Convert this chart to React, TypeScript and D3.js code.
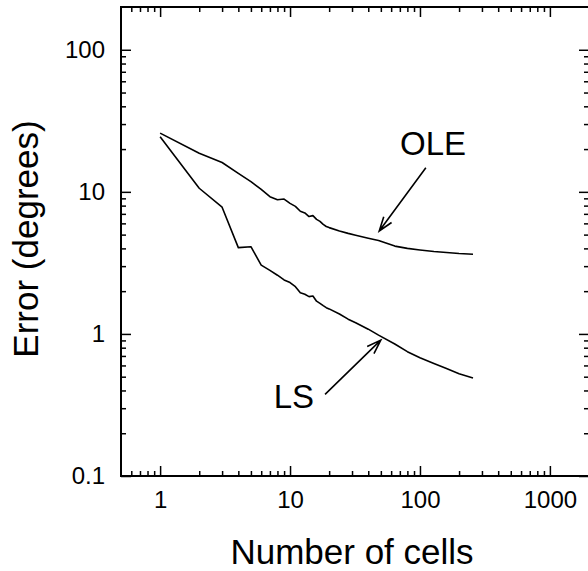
import React, { useEffect, useRef } from 'react';
import * as d3 from 'd3';

// number of cells used for each estimate
const cells = [1, 2, 3, 4, 5, 6, 7, 8, 9, 10, 11, 12, 13, 14, 15, 16, 17, 18, 19, 20, 24, 28, 32, 40, 48, 64, 80, 100, 128, 160, 200, 256];
const oleError = [25.9, 18.7, 16.1, 13.5, 11.8, 10.4, 9.25, 8.8, 8.9, 8.3, 7.9, 7.3, 7.1, 6.7, 6.8, 6.4, 6.2, 5.9, 5.7, 5.6, 5.3, 5.1, 4.95, 4.72, 4.55, 4.15, 4.0, 3.9, 3.8, 3.74, 3.68, 3.64];
const lsError = [24.4, 10.6, 7.8, 4.05, 4.11, 3.05, 2.8, 2.59, 2.4, 2.3, 2.15, 1.95, 1.9, 1.83, 1.85, 1.7, 1.64, 1.58, 1.53, 1.5, 1.38, 1.27, 1.2, 1.08, 0.98, 0.85, 0.75, 0.68, 0.62, 0.57, 0.525, 0.49];

const xTicks = [1, 10, 100, 1000];
const yTicks = [0.1, 1, 10, 100];

// annotations: label position and arrow (tail -> tip), in data units
const labels = ['OLE', 'LS'];
const labelAt = [[126, 18.2], [10.7, 0.3]];
const arrowFrom = [[111, 14.8], [18.6, 0.375]];
const arrowTo = [[48.6, 5.3], [49.9, 0.904]];

export default function App() {
  const svgRef = useRef<SVGSVGElement>(null);

  useEffect(() => {
    if (!svgRef.current) return;

    const width = 588;
    const height = 571;
    const left = 121, right = 589, top = 7, bottom = 476;
    const font = '"Liberation Sans", Arial, Helvetica, sans-serif';

    const svg = d3.select(svgRef.current);
    svg.selectAll('*').remove();
    svg.attr('width', width).attr('height', height);

    const x = d3.scaleLog().domain([0.5, 2000]).range([left, right]);
    const y = d3.scaleLog().domain([0.1, 200]).range([bottom, top]);

    const minorX: number[] = [];
    for (let e = -1; e <= 3; e++) for (let k = 2; k <= 9; k++) {
      const v = k * Math.pow(10, e);
      if (v > 0.5 && v < 2000) minorX.push(v);
    }
    const minorY: number[] = [];
    for (let e = -1; e <= 2; e++) for (let k = 2; k <= 9; k++) {
      const v = k * Math.pow(10, e);
      if (v > 0.1 && v < 200) minorY.push(v);
    }

    const styleAxis = (g: any) => {
      g.select('.domain').remove();
      g.selectAll('line').attr('stroke', '#000').attr('stroke-width', 1.5);
      g.selectAll('text').attr('fill', '#000').style('font-family', font).style('font-size', '24px');
    };

    // major ticks + labels
    svg.append('g').attr('transform', `translate(0,${bottom})`)
      .call(d3.axisBottom(x).tickValues(xTicks).tickSize(-10).tickPadding(15).tickFormat(d3.format('~g')))
      .call(styleAxis);
    svg.append('g').attr('transform', `translate(${left},0)`)
      .call(d3.axisLeft(y).tickValues(yTicks).tickSize(-10).tickPadding(16).tickFormat(d3.format('~g')))
      .call(styleAxis);
    svg.append('g').attr('transform', `translate(0,${top})`)
      .call(d3.axisTop(x).tickValues(xTicks).tickSize(-10).tickFormat(() => ''))
      .call(styleAxis);
    svg.append('g').attr('transform', `translate(${right},0)`)
      .call(d3.axisRight(y).tickValues(yTicks).tickSize(-10).tickFormat(() => ''))
      .call(styleAxis);

    // minor ticks
    svg.append('g').attr('transform', `translate(0,${bottom})`)
      .call(d3.axisBottom(x).tickValues(minorX).tickSize(-5).tickFormat(() => ''))
      .call(styleAxis);
    svg.append('g').attr('transform', `translate(0,${top})`)
      .call(d3.axisTop(x).tickValues(minorX).tickSize(-5).tickFormat(() => ''))
      .call(styleAxis);
    svg.append('g').attr('transform', `translate(${left},0)`)
      .call(d3.axisLeft(y).tickValues(minorY).tickSize(-5).tickFormat(() => ''))
      .call(styleAxis);
    svg.append('g').attr('transform', `translate(${right},0)`)
      .call(d3.axisRight(y).tickValues(minorY).tickSize(-5).tickFormat(() => ''))
      .call(styleAxis);

    // frame
    svg.append('rect')
      .attr('x', left).attr('y', top)
      .attr('width', right - left).attr('height', bottom - top)
      .attr('fill', 'none').attr('stroke', '#000').attr('stroke-width', 2);

    // curves
    const line = d3.line<number>()
      .x((_, i) => x(cells[i]))
      .y(d => y(d));

    [oleError, lsError].forEach(series => {
      svg.append('path')
        .datum(series)
        .attr('d', line)
        .attr('fill', 'none')
        .attr('stroke', '#000')
        .attr('stroke-width', 1.6)
        .attr('stroke-linejoin', 'round');
    });

    // annotations
    labels.forEach((lab, i) => {
      svg.append('text')
        .attr('x', x(labelAt[i][0]))
        .attr('y', y(labelAt[i][1]))
        .attr('text-anchor', 'middle')
        .style('font-family', font)
        .style('font-size', '33px')
        .text(lab);

      const x0 = x(arrowFrom[i][0]), y0 = y(arrowFrom[i][1]);
      const x1 = x(arrowTo[i][0]), y1 = y(arrowTo[i][1]);
      const ang = Math.atan2(y1 - y0, x1 - x0);
      const len = 15, spread = 0.33;
      const path = d3.path();
      path.moveTo(x0, y0);
      path.lineTo(x1, y1);
      path.moveTo(x1 - len * Math.cos(ang - spread), y1 - len * Math.sin(ang - spread));
      path.lineTo(x1, y1);
      path.lineTo(x1 - len * Math.cos(ang + spread), y1 - len * Math.sin(ang + spread));
      svg.append('path')
        .attr('d', path.toString())
        .attr('fill', 'none')
        .attr('stroke', '#000')
        .attr('stroke-width', 1.6);
    });

    // axis titles
    svg.append('text')
      .attr('x', 352)
      .attr('y', 564)
      .attr('text-anchor', 'middle')
      .style('font-family', font)
      .style('font-size', '35px')
      .text('Number of cells');

    svg.append('text')
      .attr('transform', `translate(38,239) rotate(-90)`)
      .attr('text-anchor', 'middle')
      .style('font-family', font)
      .style('font-size', '35px')
      .text('Error (degrees)');
  }, []);

  return <svg ref={svgRef} style={{ position: 'absolute', left: 0, top: 0, display: 'block' }}></svg>;
}
